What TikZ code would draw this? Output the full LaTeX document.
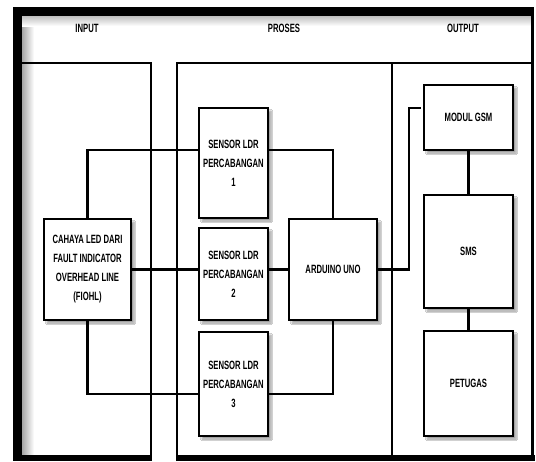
\documentclass[tikz,border=0pt]{standalone}
\usepackage{fontspec}
\newfontfamily\nar{Liberation Sans}[FakeStretch=0.64]
\usetikzlibrary{shadows.blur}
\begin{document}
\begin{tikzpicture}[x=1pt,y=-1pt,
  txt/.style={font=\nar\bfseries\fontsize{12}{19}\selectfont, align=center, inner sep=0pt},
  box/.style={txt, draw, line width=2.5pt, fill=white,
    blur shadow={shadow xshift=3pt, shadow yshift=-3pt, shadow blur steps=6, shadow opacity=40}},
  wire/.style={line width=2.5pt},
  frame/.style={line width=2.5pt}]
\useasboundingbox (0,0) rectangle (536,461);
\fill[white] (0,0) rectangle (536,461);
% inner shadows of the frame
\shade[left color=black!35, right color=white] (22,16) rectangle (34,455);
\shade[top color=black!25, bottom color=white] (22,16) rectangle (531,26);
% outer frame
\fill (13,7) rectangle (534,16);
\fill (13,7) rectangle (22,461);
\fill (531,7) rectangle (534,461);
\fill (13,455) rectangle (151,461);
\fill (177,455) rectangle (535,461);
% column boxes
\draw[frame] (22,63) -- (151,63) -- (151,461);
\draw[frame] (177,461) -- (177,63) -- (532,63);
\draw[frame] (392,63) -- (392,455);
% headers
\node[txt] (hin) at (87,28) {INPUT};
\node[txt] (hpr) at (284,28) {PROSES};
\node[txt] (hout) at (463,28) {OUTPUT};
% blocks
\node[box, minimum width=69pt, minimum height=110pt] (s1) at (233.5,163) {SENSOR LDR\\PERCABANGAN\\1};
\node[box, minimum width=69pt, minimum height=92pt] (s2) at (233.5,274) {SENSOR LDR\\PERCABANGAN\\2};
\node[box, minimum width=69pt, minimum height=104pt] (s3) at (233.5,384) {SENSOR LDR\\PERCABANGAN\\3};
\node[box, minimum width=87pt, minimum height=101pt] (fiohl) at (87.5,269.5) {CAHAYA LED DARI\\FAULT INDICATOR\\OVERHEAD LINE\\(FIOHL)};
\node[box, minimum width=88pt, minimum height=101pt] (ard) at (333,269.5) {ARDUINO UNO};
\node[box, minimum width=89pt, minimum height=65pt] (gsm) at (468.5,117.5) {MODUL GSM};
\node[box, minimum width=89pt, minimum height=113pt] (sms) at (468.5,251.5) {SMS};
\node[box, minimum width=89pt, minimum height=105pt] (pet) at (468.5,383.5) {PETUGAS};
% junction coordinates
\coordinate (j1) at (87.5,150);
\coordinate (j3) at (87.5,394);
\coordinate (e1) at (409,108);
\coordinate (e2) at (421,108);
% connectors
\draw[wire] (fiohl.north) -- (fiohl.north |- j1) -- (s1.west |- j1);
\draw[wire] (s1.east |- j1) -- (ard.north |- j1) -- (ard.north);
\draw[wire] (fiohl.east) -- (s2.west |- fiohl.east);
\draw[wire] (s2.east |- fiohl.east) -- (ard.west);
\draw[wire] (fiohl.south) -- (fiohl.south |- j3) -- (s3.west |- j3);
\draw[wire] (s3.east |- j3) -- (ard.south |- j3) -- (ard.south);
\draw[wire] (ard.east) -| (e1) -- (e2);
\draw[wire] (gsm.south) -- (sms.north);
\draw[wire] (sms.south) -- (pet.north);
\end{tikzpicture}
\end{document}
